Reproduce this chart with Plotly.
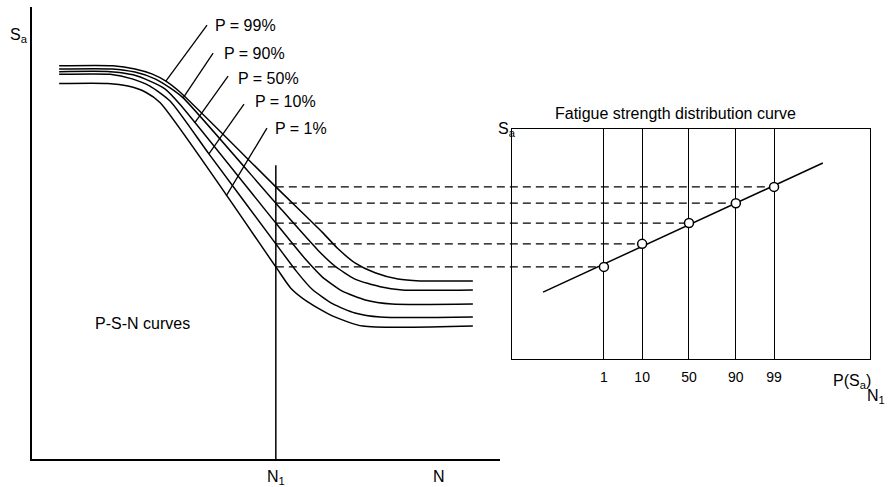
import numpy as np
import plotly.graph_objects as go
from statistics import NormalDist

# ---------------- data ----------------
# P-S-N curves (N in arbitrary life units, Sa in arbitrary stress units)
curve_names = ["P = 99%", "P = 90%", "P = 50%", "P = 10%", "P = 1%"]
prob_values = [99, 90, 50, 10, 1]

n_p99 = [5.8, 17.3, 22.0, 25.6, 28.6, 31.6, 52.1, 62.0, 65.4, 69.0, 73.3, 78.2, 82.9, 94.2]
sa_p99 = [87.0, 87.0, 86.3, 85.2, 83.6, 81.2, 60.2, 50.2, 46.5, 43.4, 41.2, 39.8, 39.4, 39.4]

n_p90 = [5.8, 17.1, 22.0, 26.3, 29.5, 32.3, 52.1, 61.1, 64.7, 69.0, 74.4, 79.1, 94.2]
sa_p90 = [86.3, 86.3, 85.6, 84.1, 82.1, 79.9, 56.6, 46.2, 42.7, 39.8, 38.1, 37.4, 37.4]

n_p50 = [5.8, 16.7, 21.6, 25.2, 28.4, 31.6, 52.1, 58.6, 62.0, 66.2, 71.2, 76.9, 94.2]
sa_p50 = [85.7, 85.7, 85.0, 83.6, 81.9, 78.5, 52.2, 44.0, 40.3, 37.2, 35.2, 34.3, 34.3]

n_p10 = [5.8, 16.7, 21.4, 25.2, 29.5, 37.8, 52.1, 56.6, 59.8, 64.3, 69.0, 74.4, 94.2]
sa_p10 = [85.1, 85.1, 84.1, 82.5, 79.2, 67.5, 47.6, 41.4, 37.6, 34.3, 32.3, 31.4, 31.4]

n_p1 = [5.8, 16.2, 20.5, 24.2, 27.4, 52.1, 55.3, 59.0, 64.3, 70.7, 94.2]
sa_p1 = [83.1, 83.1, 82.5, 81.2, 78.8, 42.5, 37.8, 34.7, 31.6, 29.4, 29.4]

N1 = 52.1                      # life at which the distribution is taken
N1_line_top = 65.0             # top of the N1 marker line (Sa units)
sa_at_N1 = [60.2, 56.6, 52.2, 47.6, 42.5]   # Sa of each curve at N1 (99..1 %)

# leader lines from curves to labels: (N start, N end), (Sa start, Sa end)
leader_n = [[28.6, 37.4], [32.3, 38.7], [34.8, 41.9], [37.8, 45.3], [41.5, 50.2]]
leader_sa = [[83.6, 96.0], [79.9, 89.8], [74.4, 84.7], [67.5, 78.5], [58.2, 73.2]]

# fatigue strength distribution (probability paper)
tick_probs = [1, 10, 50, 90, 99]
tick_labels = ["1", "10", "50", "90", "99"]
fit_z_ends = [-3.99, 3.66]     # extent of the fitted distribution line (z units)

curves_n = [n_p99, n_p90, n_p50, n_p10, n_p1]
curves_sa = [sa_p99, sa_p90, sa_p50, sa_p10, sa_p1]

# ---------------- layout geometry ----------------
W, H = 888, 487
x1_dom = [32 / W, 500 / W]
x2_dom = [512 / W, 870 / W]
y1_dom = [28 / H, 480 / H]
y2_dom = [128 / H, 358 / H]
x1_rng = [0, 100]
y1_rng = [0, 100]
px_per_sa = (y1_dom[1] - y1_dom[0]) * H / (y1_rng[1] - y1_rng[0])
y2_rng = [(y2_dom[0] - y1_dom[0]) * H / px_per_sa, (y2_dom[1] - y1_dom[0]) * H / px_per_sa]
x2_rng = [-4.84, 4.95]

nd = NormalDist()
def zval(p):
    return nd.inv_cdf(p / 100.0)

def paper_x(v, dom, rng):
    return dom[0] + (v - rng[0]) / (rng[1] - rng[0]) * (dom[1] - dom[0])

FONT = "Liberation Sans, Arial, sans-serif"
LW = 1.5

fig = go.Figure()

# P-S-N curves
for name, xs, ys in zip(curve_names, curves_n, curves_sa):
    fig.add_trace(go.Scatter(x=xs, y=ys, mode="lines", name=name,
                             line=dict(color="black", width=LW, shape="spline", smoothing=0.6),
                             xaxis="x", yaxis="y", showlegend=False, hoverinfo="skip"))

# leader lines
for ln, ls in zip(leader_n, leader_sa):
    fig.add_trace(go.Scatter(x=ln, y=ls, mode="lines", line=dict(color="black", width=1.3),
                             xaxis="x", yaxis="y", showlegend=False, hoverinfo="skip"))

# N1 vertical line
fig.add_trace(go.Scatter(x=[N1, N1], y=[y1_rng[0], N1_line_top], mode="lines",
                         line=dict(color="black", width=LW), xaxis="x", yaxis="y",
                         showlegend=False, hoverinfo="skip"))

# distribution points + fitted line
z_pts = [zval(p) for p in prob_values]
coef = np.polyfit(z_pts, sa_at_N1, 1)
fit_y = [coef[0] * z + coef[1] for z in fit_z_ends]
fig.add_trace(go.Scatter(x=fit_z_ends, y=fit_y, mode="lines", line=dict(color="black", width=LW),
                         xaxis="x2", yaxis="y2", showlegend=False, hoverinfo="skip"))
fig.add_trace(go.Scatter(x=z_pts, y=sa_at_N1, mode="markers",
                         marker=dict(symbol="circle", size=9, color="white",
                                     line=dict(color="black", width=1.5)),
                         xaxis="x2", yaxis="y2", showlegend=False, hoverinfo="skip",
                         cliponaxis=False))

# dashed projection lines from N1 to the distribution points
for z, sa in zip(z_pts, sa_at_N1):
    fig.add_shape(type="line", xref="paper", yref="y",
                  x0=paper_x(N1, x1_dom, x1_rng), x1=paper_x(z, x2_dom, x2_rng),
                  y0=sa, y1=sa, layer="below",
                  line=dict(color="black", width=1.3, dash="8px,5px"))

# annotations
ann = []
lab_pos = [(38.7, 96.0), (40.6, 89.8), (43.6, 84.1), (47.2, 79.0), (51.5, 73.2)]
for name, (lx, ly) in zip(curve_names, lab_pos):
    ann.append(dict(x=lx, y=ly, xref="x", yref="y", text=name, showarrow=False,
                    xanchor="left", yanchor="middle", font=dict(size=16)))

ann += [
    dict(x=8 / W, y=1 - 36 / H, xref="paper", yref="paper", text="S<sub>a</sub>",
         showarrow=False, xanchor="left", yanchor="middle", font=dict(size=16)),
    dict(x=N1, y=1 - 466 / H, xref="x", yref="paper", text="N<sub>1</sub>",
         showarrow=False, xanchor="center", yanchor="top", font=dict(size=16)),
    dict(x=439 / W, y=1 - 476 / H, xref="paper", yref="paper", text="N",
         showarrow=False, xanchor="center", yanchor="middle", font=dict(size=16)),
    dict(x=93 / W, y=1 - 323 / H, xref="paper", yref="paper", text="P-S-N curves",
         showarrow=False, xanchor="left", yanchor="middle", font=dict(size=16)),
    dict(x=675 / W, y=1 - 113 / H, xref="paper", yref="paper",
         text="Fatigue strength distribution curve",
         showarrow=False, xanchor="center", yanchor="middle", font=dict(size=16)),
    dict(x=496 / W, y=1 - 129 / H, xref="paper", yref="paper", text="S<sub>a</sub>",
         showarrow=False, xanchor="left", yanchor="middle", font=dict(size=16)),
    dict(x=831 / W, y=1 - 381 / H, xref="paper", yref="paper", text="P(S<sub>a</sub>)",
         showarrow=False, xanchor="left", yanchor="middle", font=dict(size=16)),
    dict(x=865 / W, y=1 - 396 / H, xref="paper", yref="paper", text="N<sub>1</sub>",
         showarrow=False, xanchor="left", yanchor="middle", font=dict(size=16)),
]

fig.update_layout(
    width=W, height=H, autosize=False,
    margin=dict(l=0, r=0, t=0, b=0, pad=0),
    paper_bgcolor="white", plot_bgcolor="rgba(0,0,0,0)",
    font=dict(family=FONT, color="black", size=16),
    showlegend=False,
    annotations=ann,
    xaxis=dict(domain=x1_dom, range=x1_rng, showline=True, linecolor="black", linewidth=LW,
               showgrid=False, zeroline=False, showticklabels=False, ticks="", anchor="y"),
    yaxis=dict(domain=y1_dom, range=y1_rng, showline=True, linecolor="black", linewidth=LW,
               showgrid=False, zeroline=False, showticklabels=False, ticks="", anchor="x"),
    xaxis2=dict(domain=x2_dom, range=x2_rng, showline=True, mirror=True, linecolor="black",
                linewidth=1.3, showgrid=True, gridcolor="black", gridwidth=1.3,
                zeroline=False, tickmode="array", tickvals=[zval(p) for p in tick_probs],
                ticktext=tick_labels, ticks="", tickfont=dict(size=14), anchor="y2",
                ticklabelstandoff=5),
    yaxis2=dict(domain=y2_dom, range=y2_rng, showline=True, mirror=True, linecolor="black",
                linewidth=1.3, showgrid=False, zeroline=False, showticklabels=False,
                ticks="", anchor="x2"),
)

fig.write_html("out.html", config={"displayModeBar": False},
               post_script="document.body.style.margin='0px';"
                           "document.body.style.overflow='hidden';")
